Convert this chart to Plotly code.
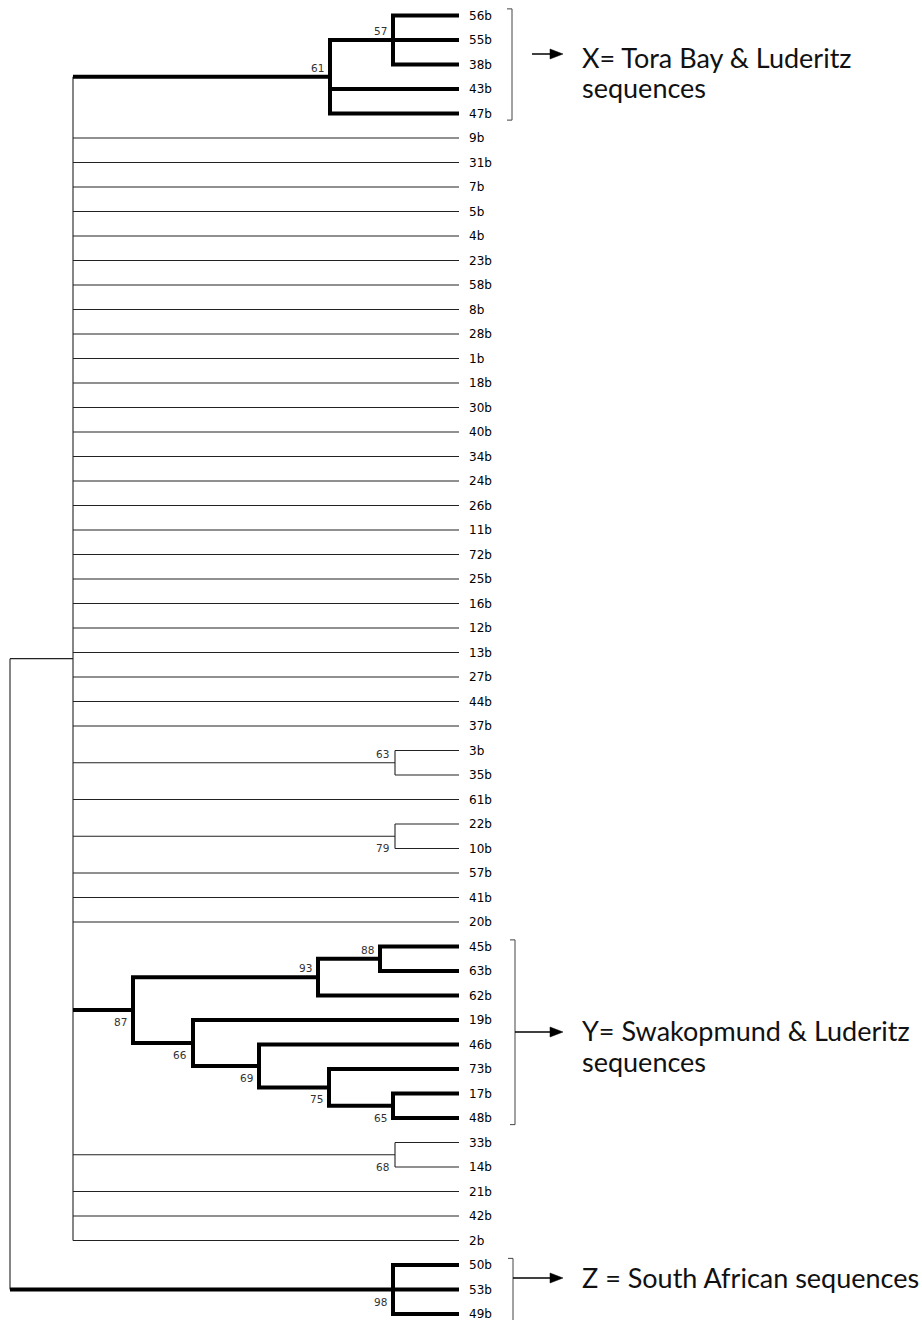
import plotly.graph_objects as go

# ---------------- data ----------------
LEAVES = ["56b", "55b", "38b", "43b", "47b", "9b", "31b", "7b", "5b", "4b",
          "23b", "58b", "8b", "28b", "1b", "18b", "30b", "40b", "34b", "24b",
          "26b", "11b", "72b", "25b", "16b", "12b", "13b", "27b", "44b", "37b",
          "3b", "35b", "61b", "22b", "10b", "57b", "41b", "20b", "45b", "63b",
          "62b", "19b", "46b", "73b", "17b", "48b", "33b", "14b", "21b", "42b",
          "2b", "50b", "53b", "49b"]

NODE_IDS = ["n57", "n61", "n63", "n79", "n88", "n93", "n65", "n75", "n69",
            "n66", "n87", "n68", "n98", "ingroup", "root"]
NODE_DEPTH = [393, 330, 395, 395, 380, 318, 393, 329, 259, 193, 133, 395, 393, 73, 10]
BOOTSTRAP = [57, 61, 63, 79, 88, 93, 65, 75, 69, 66, 87, 68, 98, None, None]
TIP_DEPTH = 459

CHILDREN = {
    "n57": ["56b", "55b", "38b"],
    "n61": ["n57", "43b", "47b"],
    "n63": ["3b", "35b"],
    "n79": ["22b", "10b"],
    "n88": ["45b", "63b"],
    "n93": ["n88", "62b"],
    "n65": ["17b", "48b"],
    "n75": ["73b", "n65"],
    "n69": ["46b", "n75"],
    "n66": ["19b", "n69"],
    "n87": ["n93", "n66"],
    "n68": ["33b", "14b"],
    "n98": ["50b", "53b", "49b"],
    "ingroup": ["n61", "9b", "31b", "7b", "5b", "4b", "23b", "58b", "8b", "28b",
                "1b", "18b", "30b", "40b", "34b", "24b", "26b", "11b", "72b",
                "25b", "16b", "12b", "13b", "27b", "44b", "37b", "n63", "61b",
                "n79", "57b", "41b", "20b", "n87", "n68", "21b", "42b", "2b"],
    "root": ["ingroup", "n98"],
}

GROUP_TEXT = [["X= Tora Bay & Luderitz", "sequences"],
              ["Y= Swakopmund & Luderitz", "sequences"],
              ["Z = South African sequences"]]
GROUP_LEAVES = [["56b", "47b"], ["45b", "48b"], ["50b", "49b"]]

# ---------------- styles ----------------
THICK_NODES = {"n57", "n61", "n88", "n93", "n65", "n75", "n69", "n66", "n87", "n98"}
LABEL_BELOW = {"n79", "n65", "n75", "n69", "n66", "n87", "n68", "n98"}
W, H = 922, 1320
Y0, DY = 15.5, 24.5          # pixel of first leaf row, row spacing

depth = dict(zip(NODE_IDS, NODE_DEPTH))
boot = dict(zip(NODE_IDS, BOOTSTRAP))
leaf_idx = {n: i for i, n in enumerate(LEAVES)}

ypos = {}


def get_y(n):
    if n in leaf_idx:
        return leaf_idx[n]
    if n not in ypos:
        ch = [get_y(c) for c in CHILDREN[n]]
        ypos[n] = (min(ch) + max(ch)) / 2
    return ypos[n]


get_y("root")

parent = {}
for p, chs in CHILDREN.items():
    for c in chs:
        parent[c] = p


def is_thick(n):
    if n in CHILDREN:
        return n in THICK_NODES
    return parent[n] in THICK_NODES


def end_x(n):
    return depth[n] if n in CHILDREN else TIP_DEPTH


thick_x, thick_y, thin_x, thin_y = [], [], [], []


def add(seg_x, seg_y, thick):
    tx, ty = (thick_x, thick_y) if thick else (thin_x, thin_y)
    tx.extend(seg_x + [None])
    ty.extend(seg_y + [None])


for n, chs in CHILDREN.items():
    nx = depth[n]
    chs_sorted = sorted(chs, key=get_y)
    first, last = chs_sorted[0], chs_sorted[-1]
    if n in THICK_NODES:
        add([end_x(first), nx, nx, end_x(last)],
            [get_y(first), get_y(first), get_y(last), get_y(last)], True)
        for c in chs_sorted[1:-1]:
            add([nx, end_x(c)], [get_y(c), get_y(c)], True)
    else:
        add([nx, nx], [get_y(first), get_y(last)], False)
        for c in chs_sorted:
            add([nx, end_x(c)], [get_y(c), get_y(c)], is_thick(c))

fig = go.Figure()
fig.add_trace(go.Scatter(x=thin_x, y=thin_y, mode="lines",
                         line=dict(color="#222222", width=1.1), hoverinfo="skip"))
fig.add_trace(go.Scatter(x=thick_x, y=thick_y, mode="lines",
                         line=dict(color="#000000", width=4), hoverinfo="skip"))

annotations = []
for leaf in LEAVES:
    annotations.append(dict(x=TIP_DEPTH + 8, y=leaf_idx[leaf], text=leaf,
                            xanchor="left", yanchor="middle", showarrow=False,
                            font=dict(family="DejaVu Sans", size=12, color="#000")))

for n in NODE_IDS:
    if boot[n] is None:
        continue
    below = n in LABEL_BELOW
    annotations.append(dict(x=depth[n] - 4, y=get_y(n), text=str(boot[n]),
                            xanchor="right", yanchor="middle", showarrow=False,
                            yshift=-12 if below else 9,
                            font=dict(family="DejaVu Sans", size=10.5, color="#333")))


def py(pix):
    return 1 - pix / H


shapes = []
BR_X = [512, 515, 513]
ARROW = [(532, 54), (515, 1032), (513, 1278)]
TEXT_Y = [[57, 88], [1030, 1061], [1277]]
for g, (a, b) in enumerate(GROUP_LEAVES):
    top = Y0 + (leaf_idx[a] - 0.27) * DY
    bot = min(Y0 + (leaf_idx[b] + 0.27) * DY, H + 2)
    bx = BR_X[g]
    shapes.append(dict(type="path", xref="x", yref="paper",
                       path=f"M {bx-5},{py(top)} L {bx},{py(top)} L {bx},{py(bot)} L {bx-5},{py(bot)}",
                       line=dict(color="#444", width=1)))
    ax0, ay = ARROW[g]
    shapes.append(dict(type="line", xref="x", yref="paper", x0=ax0, x1=553,
                       y0=py(ay), y1=py(ay), line=dict(color="#000", width=1.5)))
    shapes.append(dict(type="path", xref="x", yref="paper",
                       path=f"M 563,{py(ay)} L 550,{py(ay-5)} L 550,{py(ay+5)} Z",
                       fillcolor="#000", line=dict(color="#000", width=0.5)))
    for line_txt, ty in zip(GROUP_TEXT[g], TEXT_Y[g]):
        annotations.append(dict(x=580, y=py(ty), xref="x", yref="paper",
                                text=line_txt, xanchor="left", yanchor="middle",
                                showarrow=False,
                                font=dict(family="Lato", size=27, color="#111")))

fig.update_layout(
    width=W, height=H, margin=dict(l=0, r=0, t=0, b=0),
    plot_bgcolor="white", paper_bgcolor="white", showlegend=False,
    xaxis=dict(range=[0, W], visible=False, fixedrange=True),
    yaxis=dict(range=[(H - Y0) / DY, -Y0 / DY], visible=False, fixedrange=True),
    annotations=annotations, shapes=shapes,
)
fig.write_html("out.html")
